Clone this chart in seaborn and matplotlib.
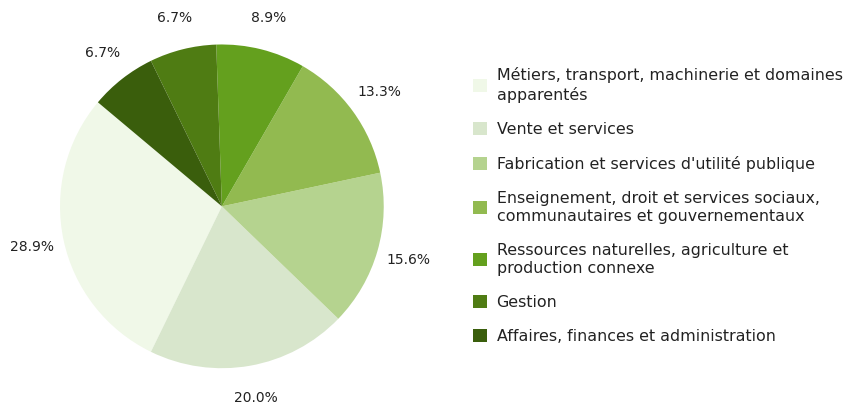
import matplotlib
matplotlib.use("Agg")
import matplotlib.pyplot as plt
import seaborn as sns

sns.set_style("white")
plt.rcParams['font.family'] = ['DejaVu Sans']

categories = [
    "Métiers, transport, machinerie et domaines\napparentés",
    "Vente et services",
    "Fabrication et services d'utilité publique",
    "Enseignement, droit et services sociaux,\ncommunautaires et gouvernementaux",
    "Ressources naturelles, agriculture et\nproduction connexe",
    "Gestion",
    "Affaires, finances et administration",
]
counts = [13, 9, 7, 6, 4, 3, 3]
colors = ["#f0f8e8", "#d8e6cc", "#b5d38f", "#92ba50", "#64a01e", "#4f7c13", "#3a5e0c"]

fig = plt.figure(figsize=(8.43, 4.03), dpi=100)
ax = fig.add_axes([0.0712, 0.086, 0.384, 0.804])
wedges, texts, autotexts = ax.pie(counts, colors=colors, startangle=140, counterclock=True,
                                  autopct="%1.1f%%", pctdistance=1.2,
                                  wedgeprops={"linewidth": 0, "edgecolor": "none"},
                                  textprops={"fontsize": 10, "color": "#222222"})
ax.set_xlim(-1, 1)
ax.set_ylim(-1, 1)
ax.set_aspect("equal")

leg = fig.legend(wedges, categories, loc="center left", bbox_to_anchor=(0.544, 0.49),
                 frameon=False, fontsize=11.4, handlelength=0.9, handleheight=0.9,
                 labelspacing=1.2, handletextpad=0.6, labelcolor="#222222")
for t in leg.get_texts():
    t.set_linespacing(1.25)

fig.savefig("out.png", dpi=100)
